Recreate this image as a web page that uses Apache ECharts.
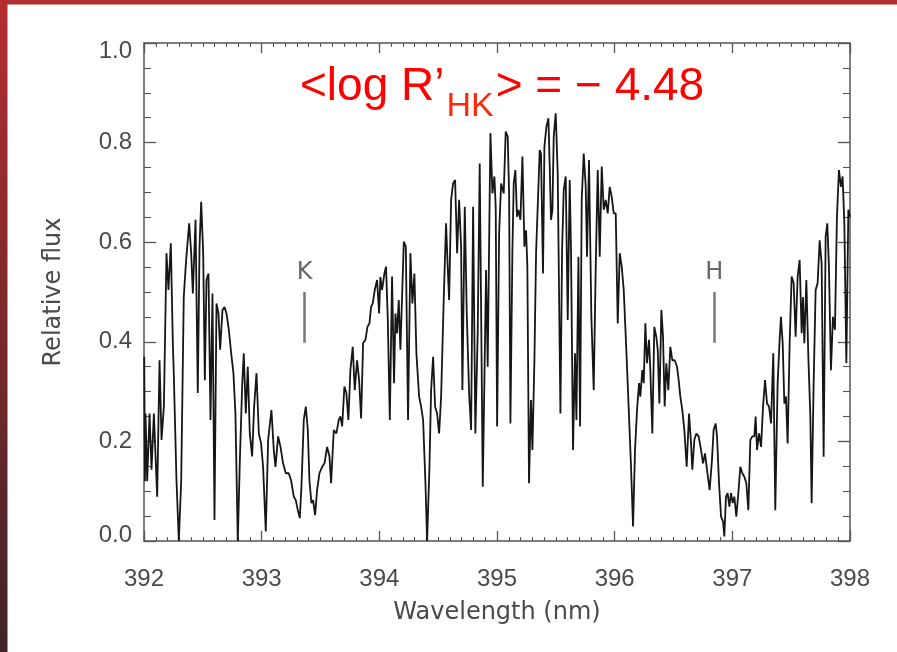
<!DOCTYPE html>
<html><head><meta charset="utf-8">
<script src="https://cdn.jsdelivr.net/npm/echarts@6/dist/echarts.min.js"></script>
<style>html,body{margin:0;padding:0;background:#fff;}#c{width:897px;height:652px;}</style>
</head><body><div id="c"></div>
<script>
// Spectrum: wavelength (nm) and relative flux
const wavelength = [
392.002,392.008,392.013,392.027,392.047,392.064,392.084,392.098,392.112,392.132,392.149,392.169,392.191,392.208,392.228,392.245,392.253,392.276,392.296,392.316,392.338,392.358,392.384,392.401,392.415,392.438,392.457,392.472,392.486,392.503,392.517,392.531,392.548,392.565,392.582,392.599,392.616,392.633,392.647,392.667,392.684,392.701,392.721,392.741,392.760,392.777,392.797,392.814,392.834,392.848,392.865,392.882,392.899,392.919,392.936,392.956,392.976,392.995,393.012,393.035,393.055,393.083,393.103,393.117,393.140,393.160,393.182,393.205,393.230,393.250,393.273,393.290,393.307,393.324,393.338,393.358,393.375,393.392,393.406,393.423,393.437,393.454,393.471,393.491,393.514,393.534,393.556,393.576,393.590,393.613,393.635,393.655,393.669,393.684,393.703,393.720,393.737,393.754,393.774,393.791,393.811,393.828,393.845,393.862,393.882,393.899,393.916,393.930,393.944,393.961,393.981,393.998,394.009,394.023,394.043,
394.057,394.072,394.089,394.108,394.125,394.137,394.151,394.165,394.179,394.196,394.208,394.225,394.244,394.264,394.281,394.298,394.315,394.338,394.355,394.372,394.392,394.406,394.426,394.440,394.457,394.474,394.491,394.508,394.525,394.547,394.567,394.581,394.593,394.610,394.627,394.644,394.661,394.678,394.695,394.706,394.726,394.743,394.763,394.780,394.797,394.816,394.836,394.853,394.867,394.879,394.893,394.907,394.921,394.944,394.961,394.978,394.989,395.001,395.018,395.035,395.057,395.074,395.091,395.103,395.114,395.131,395.142,395.156,395.170,395.182,395.199,395.216,395.233,395.247,395.258,395.272,395.289,395.301,395.318,395.332,395.346,395.363,395.374,395.391,395.403,395.420,395.437,395.448,395.459,395.471,395.482,395.499,395.516,395.539,395.553,395.567,395.584,395.601,395.618,395.629,395.646,395.663,395.675,395.692,395.706,395.720,395.737,395.754,395.765,395.782,395.802,395.822,395.839,395.856,395.873,395.890,395.907,395.924,395.941,395.958,395.975,395.992,396.009,396.026,
396.043,396.060,396.077,396.099,396.122,396.139,396.156,396.173,396.190,396.207,396.218,396.235,396.247,396.261,396.275,396.292,396.303,396.320,396.337,396.354,396.366,396.380,396.397,396.411,396.425,396.439,396.456,396.473,396.490,396.510,396.530,396.544,396.558,396.575,396.592,396.612,396.632,396.649,396.660,396.677,396.694,396.714,396.734,396.751,396.768,396.785,396.807,396.827,396.841,396.858,396.870,396.887,396.904,396.921,396.932,396.946,396.960,396.975,396.989,397.003,397.017,397.034,397.051,397.068,397.085,397.102,397.119,397.136,397.153,397.170,397.187,397.198,397.210,397.227,397.244,397.261,397.278,397.295,397.312,397.329,397.348,397.365,397.385,397.402,397.413,397.428,397.442,397.456,397.470,397.487,397.504,397.521,397.538,397.555,397.572,397.589,397.600,397.612,397.629,397.646,397.663,397.674,397.691,397.708,397.725,397.742,397.759,397.776,397.793,397.807,397.821,397.838,397.855,397.872,397.889,397.906,397.923,397.937,397.952,397.969,397.986,398.000
];
const flux = [
0.37,0.12,0.256,0.12,0.256,0.143,0.256,0.17,0.089,0.363,0.203,0.27,0.578,0.504,0.598,0.397,0.337,0.122,0.0,0.12,0.49,0.564,0.638,0.578,0.497,0.645,0.297,0.591,0.681,0.578,0.323,0.524,0.537,0.243,0.497,0.042,0.477,0.457,0.384,0.464,0.47,0.457,0.424,0.377,0.337,0.256,0.0,0.156,0.31,0.377,0.256,0.35,0.216,0.17,0.27,0.337,0.216,0.196,0.149,0.019,0.203,0.263,0.183,0.149,0.21,0.189,0.156,0.136,0.136,0.122,0.089,0.082,0.062,0.046,0.109,0.243,0.27,0.223,0.122,0.076,0.082,0.052,0.102,0.136,0.149,0.156,0.189,0.17,0.116,0.223,0.216,0.243,0.25,0.23,0.31,0.297,0.243,0.343,0.39,0.303,0.363,0.323,0.246,0.397,0.404,0.43,0.437,0.47,0.477,0.504,0.524,0.457,0.53,0.504,0.537,
0.551,0.444,0.243,0.531,0.317,0.457,0.417,0.484,0.384,0.511,0.601,0.591,0.243,0.578,0.477,0.537,0.377,0.29,0.27,0.243,0.116,0.0,0.149,0.303,0.37,0.27,0.256,0.216,0.29,0.484,0.638,0.551,0.484,0.685,0.718,0.725,0.578,0.685,0.591,0.303,0.671,0.457,0.297,0.223,0.671,0.216,0.417,0.758,0.417,0.109,0.323,0.544,0.35,0.819,0.698,0.732,0.671,0.23,0.618,0.718,0.698,0.822,0.812,0.698,0.236,0.584,0.718,0.745,0.651,0.665,0.645,0.772,0.591,0.624,0.551,0.116,0.283,0.183,0.363,0.578,0.671,0.785,0.778,0.537,0.792,0.832,0.849,0.752,0.645,0.665,0.812,0.859,0.738,0.256,0.584,0.705,0.732,0.444,0.725,0.584,0.183,0.377,0.243,0.571,0.23,0.685,0.778,0.711,0.571,0.765,0.45,0.303,0.551,0.745,0.571,0.752,0.665,0.685,0.658,0.711,0.691,0.658,0.658,0.437,
0.578,0.551,0.504,0.384,0.25,0.149,0.029,0.183,0.263,0.317,0.29,0.343,0.317,0.437,0.357,0.404,0.343,0.216,0.43,0.41,0.384,0.276,0.464,0.41,0.27,0.357,0.303,0.39,0.363,0.363,0.35,0.323,0.29,0.263,0.223,0.149,0.256,0.196,0.143,0.203,0.216,0.21,0.183,0.156,0.176,0.143,0.102,0.163,0.223,0.236,0.21,0.116,0.049,0.039,0.009,0.089,0.096,0.069,0.096,0.076,0.089,0.049,0.096,0.149,0.136,0.129,0.116,0.062,0.203,0.21,0.21,0.25,0.183,0.216,0.189,0.27,0.323,0.276,0.27,0.236,0.377,0.062,0.317,0.404,0.45,0.397,0.276,0.29,0.196,0.397,0.531,0.518,0.41,0.531,0.564,0.417,0.49,0.397,0.524,0.37,0.25,0.076,0.317,0.504,0.518,0.604,0.557,0.169,0.611,0.638,0.551,0.343,0.45,0.424,0.651,0.745,0.711,0.732,0.638,0.357,0.665,0.651
];
const xMin = 392, xMax = 398, xStep = 1;
const yMin = 0, yMax = 1, yStep = 0.2;
const lineNames = ['K', 'H'];
const lineCenters = [393.366, 396.847];
const markerLow = 0.398, markerHigh = 0.50, markerLabelY = 0.538;
const annotationParts = ['<log R\u2019', 'HK', '> = \u2212 4.48'];
const xTitle = 'Wavelength (nm)';
const yTitle = 'Relative flux';

const chart = echarts.init(document.getElementById('c'), null, {renderer: 'canvas'});
const seriesData = wavelength.map((w, i) => [w, flux[i]]);

const axisCol = '#555';
const labelFont = {fontFamily: '"Liberation Sans", Arial, sans-serif', fontSize: 24, color: '#4a4a4a'};
const titleFont = {fontFamily: '"DejaVu Sans", sans-serif', fontSize: 24, color: '#4a4a4a'};

function xAx(pos, labels) {
  return {
    type: 'value', position: pos, min: xMin, max: xMax, interval: xStep,
    axisLine: {show: true, onZero: false, lineStyle: {color: axisCol, width: 1.5}},
    axisTick: {show: true, inside: true, length: 10, lineStyle: {color: axisCol, width: 1.3}},
    minorTick: {show: true, splitNumber: 10, length: 4, lineStyle: {color: axisCol, width: 1.1}},
    splitLine: {show: false}, minorSplitLine: {show: false},
    axisLabel: labels ? Object.assign({show: true, margin: 26, formatter: v => String(Math.round(v))}, labelFont) : {show: false},
    name: labels ? xTitle : '', nameLocation: 'middle', nameGap: 60,
    nameTextStyle: titleFont
  };
}
function yAx(pos, labels) {
  return {
    type: 'value', position: pos, min: yMin, max: yMax, interval: yStep,
    axisLine: {show: true, onZero: false, lineStyle: {color: axisCol, width: 1.5}},
    axisTick: {show: true, inside: true, length: 12, lineStyle: {color: axisCol, width: 1.3}},
    minorTick: {show: true, splitNumber: 4, length: 7, lineStyle: {color: axisCol, width: 1.1}},
    splitLine: {show: false}, minorSplitLine: {show: false},
    axisLabel: labels ? Object.assign({show: true, margin: 12,
      formatter: v => {
        const t = v.toFixed(1);
        if (v === yMin) return '{lo|' + t + '}';
        if (v === yMax) return '{hi|' + t + '}';
        return t;
      },
      rich: {
        lo: Object.assign({padding: [0, 0, 12, 0]}, labelFont),
        hi: Object.assign({padding: [16, 0, 0, 0]}, labelFont)
      }}, labelFont) : {show: false},
    name: labels ? yTitle : '', nameLocation: 'middle', nameGap: 78, nameRotate: 90,
    nameTextStyle: titleFont
  };
}

// measure annotation parts for placement
const cv = document.createElement('canvas').getContext('2d');
const mainFont = '46px "Liberation Sans", Arial, sans-serif';
const subFont = '34px "Liberation Sans", Arial, sans-serif';
cv.font = mainFont; const w0 = cv.measureText(annotationParts[0]).width;
cv.font = subFont; const w1 = cv.measureText(annotationParts[1]).width;
const ax0 = 300;

chart.setOption({
  animation: false,
  backgroundColor: '#ffffff',
  grid: {left: 144, top: 43, right: 47, bottom: 111, containLabel: false},
  xAxis: [xAx('bottom', true), xAx('top', false)],
  yAxis: [yAx('left', true), yAx('right', false)],
  series: [{
    type: 'line', data: seriesData, showSymbol: false, symbol: 'none',
    lineStyle: {color: '#161616', width: 1.8}, clip: true, silent: true,
    markLine: {
      silent: true, symbol: ['none', 'none'],
      lineStyle: {color: '#777', width: 2.5, type: 'solid'},
      label: {show: false},
      data: lineCenters.map(c => [{coord: [c, markerLow]}, {coord: [c, markerHigh]}])
    },
    markPoint: {
      silent: true, symbol: 'circle', symbolSize: 0,
      label: {show: true, position: 'inside', formatter: '{b}', fontFamily: '"DejaVu Sans", sans-serif', fontSize: 24, color: '#666'},
      data: lineCenters.map((c, i) => ({coord: [c, markerLabelY], name: lineNames[i], value: 0}))
    }
  }],
  graphic: [
    {type: 'rect', left: 0, top: 0, shape: {width: 897, height: 4.5}, style: {fill: '#b12e31'}, silent: true, z: 100},
    {type: 'rect', left: 0, top: 0, shape: {width: 7.5, height: 652}, silent: true, z: 100,
      style: {fill: new echarts.graphic.LinearGradient(0, 0, 0, 1, [
        {offset: 0, color: '#b32e31'}, {offset: 0.5, color: '#7a292c'}, {offset: 1, color: '#3e2427'}])}},
    {type: 'text', x: ax0, y: 87, silent: true, z: 50,
      style: {text: annotationParts[0], font: mainFont, fill: '#ff0000', verticalAlign: 'middle', align: 'left'}},
    {type: 'text', x: ax0 + w0 + 2, y: 107, silent: true, z: 50,
      style: {text: annotationParts[1], font: subFont, fill: '#ff2a0a', verticalAlign: 'middle', align: 'left'}},
    {type: 'text', x: ax0 + w0 + w1 + 4, y: 87, silent: true, z: 50,
      style: {text: annotationParts[2], font: mainFont, fill: '#ff0000', verticalAlign: 'middle', align: 'left'}}
  ]
});
</script>
</body></html>
